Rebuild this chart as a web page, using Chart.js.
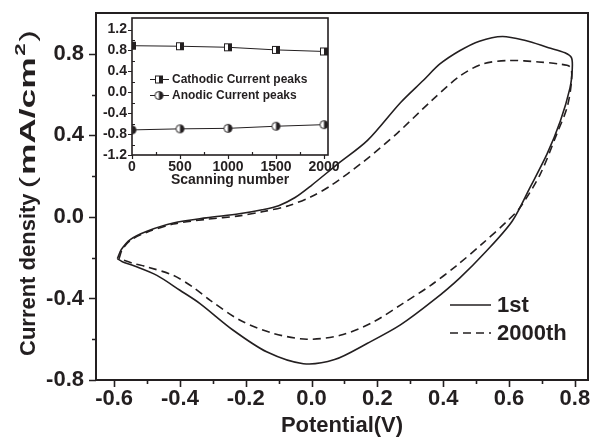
<!DOCTYPE html>
<html lang="en">
<head>
<meta charset="UTF-8">
<title>CV curves</title>
<script src="https://cdn.jsdelivr.net/npm/chart.js"></script>
<style>
  html, body { margin: 0; padding: 0; background: #fff; }
  #wrap { position: relative; width: 591px; height: 437px; }
  #mainChart { position: absolute; left: 0; top: 0; }
  #insetChart { position: absolute; left: 98px; top: 13px; }
</style>
</head>
<body>
<div id="wrap">
  <canvas id="mainChart" width="591" height="437"></canvas>
  <canvas id="insetChart" width="252" height="180"></canvas>
</div>
<script>
const ink = '#231f20';
const fontFamily = '"Liberation Sans", Arial, sans-serif';
Chart.defaults.font.family = fontFamily;
Chart.defaults.color = ink;

// main CV loops, in scan order (potential in V, current density in mA/cm2)
const firstPotential = [-0.59, -0.578, -0.55, -0.5, -0.42, -0.32, -0.22, -0.15, -0.1, -0.05, 0.0, 0.08, 0.17, 0.27, 0.34, 0.39, 0.45, 0.51, 0.58, 0.65, 0.72, 0.77, 0.79, 0.792, 0.785, 0.756, 0.716, 0.664, 0.61, 0.53, 0.45, 0.37, 0.27, 0.17, 0.07, -0.025, -0.135, -0.238, -0.34, -0.40, -0.47, -0.54, -0.575, -0.59];
const firstCurrent = [-0.205, -0.16, -0.11, -0.07, -0.03, -0.005, 0.015, 0.035, 0.055, 0.095, 0.155, 0.26, 0.375, 0.56, 0.67, 0.75, 0.815, 0.862, 0.885, 0.865, 0.83, 0.805, 0.78, 0.72, 0.63, 0.47, 0.31, 0.145, -0.02, -0.17, -0.30, -0.41, -0.53, -0.62, -0.70, -0.72, -0.663, -0.556, -0.424, -0.36, -0.287, -0.24, -0.22, -0.205];
const lastPotential = [-0.585, -0.575, -0.55, -0.5, -0.42, -0.32, -0.22, -0.15, -0.07, 0.0, 0.06, 0.157, 0.26, 0.36, 0.45, 0.52, 0.6, 0.69, 0.75, 0.786, 0.79, 0.777, 0.746, 0.695, 0.634, 0.595, 0.52, 0.44, 0.36, 0.278, 0.187, 0.087, -0.014, -0.117, -0.217, -0.308, -0.36, -0.42, -0.5, -0.542, -0.585];
const lastCurrent = [-0.205, -0.16, -0.115, -0.075, -0.035, -0.012, 0.005, 0.025, 0.055, 0.1, 0.155, 0.27, 0.41, 0.563, 0.69, 0.75, 0.767, 0.76, 0.75, 0.735, 0.67, 0.54, 0.41, 0.21, 0.047, -0.02, -0.13, -0.24, -0.338, -0.424, -0.516, -0.581, -0.6, -0.571, -0.507, -0.409, -0.345, -0.287, -0.245, -0.228, -0.205];
const seriesLabels = ['1st', '2000th'];

const potentialTicks = [-0.6, -0.4, -0.2, 0.0, 0.2, 0.4, 0.6, 0.8];
const currentTicks = [-0.8, -0.4, 0.0, 0.4, 0.8];

// inset: peak currents vs scan number
const scanNumbers = [0, 500, 1000, 1500, 2000];
const cathodicPeaks = [0.89, 0.88, 0.86, 0.81, 0.78];
const anodicPeaks = [-0.72, -0.70, -0.69, -0.65, -0.62];
const insetLabels = ['Cathodic Current peaks', 'Anodic Current peaks'];
const scanTicks = [0, 500, 1000, 1500, 2000];
const peakTicks = [-1.2, -0.8, -0.4, 0.0, 0.4, 0.8, 1.2];

function midpoints(t) {
  const m = [];
  for (let i = 0; i < t.length - 1; i++) m.push((t[i] + t[i + 1]) / 2);
  return m;
}
function toPoints(xs, ys) {
  return xs.map((v, i) => ({ x: v, y: ys[i] }));
}
// fixed axis boxes, no extra room for edge labels
function fixHeight(h) {
  return s => { s.height = h; s.paddingLeft = 0; s.paddingRight = 0; };
}
function fixWidth(w) {
  return s => { s.width = w; s.paddingTop = 0; s.paddingBottom = 0; };
}

// little tick marks: majors outward, minors given length/direction
function drawTicks(chart, xTicks, yTicks, major, minor, minorDir) {
  const { ctx, chartArea: a, scales: { x, y } } = chart;
  ctx.beginPath();
  xTicks.forEach(v => {
    const px = Math.round(x.getPixelForValue(v)) + 0.5;
    ctx.moveTo(px, a.bottom); ctx.lineTo(px, a.bottom + major);
  });
  midpoints(xTicks).forEach(v => {
    const px = Math.round(x.getPixelForValue(v)) + 0.5;
    ctx.moveTo(px, a.bottom); ctx.lineTo(px, a.bottom - minorDir * minor);
  });
  yTicks.forEach(v => {
    const py = Math.round(y.getPixelForValue(v)) + 0.5;
    ctx.moveTo(a.left, py); ctx.lineTo(a.left - major, py);
  });
  midpoints(yTicks).forEach(v => {
    const py = Math.round(y.getPixelForValue(v)) + 0.5;
    ctx.moveTo(a.left, py); ctx.lineTo(a.left + minorDir * minor, py);
  });
  ctx.stroke();
}

const mainFrame = {
  id: 'mainFrame',
  afterDraw(chart) {
    const { ctx, chartArea: a } = chart;
    ctx.save();
    ctx.strokeStyle = ink;
    ctx.lineWidth = 2;
    ctx.beginPath();
    ctx.moveTo(a.left, a.top); ctx.lineTo(a.right, a.top); ctx.lineTo(a.right, a.bottom);
    ctx.stroke();
    ctx.lineWidth = 1.6;
    drawTicks(chart, potentialTicks, currentTicks, 7, 4, -1);

    // legend
    ctx.font = 'bold 22px ' + fontFamily;
    ctx.fillStyle = ink;
    ctx.textBaseline = 'middle';
    chart.data.datasets.forEach((ds, i) => {
      const ly = 305 + i * 28;
      ctx.lineWidth = ds.borderWidth;
      ctx.setLineDash(ds.borderDash || []);
      ctx.beginPath(); ctx.moveTo(450, ly); ctx.lineTo(491, ly); ctx.stroke();
      ctx.setLineDash([]);
      ctx.fillText(ds.label, 497, ly + 1);
    });

    // y title, units part drawn wider as in the source figure
    ctx.translate(29, 356);
    ctx.rotate(-Math.PI / 2);
    ctx.fillText('Current density', 0, 0);
    const w1 = ctx.measureText('Current density').width;
    ctx.translate(w1 + 5, 0);
    ctx.font = '22px ' + fontFamily;
    const wOpen = ctx.measureText('(').width;
    ctx.font = 'bold 22px ' + fontFamily;
    const w2 = ctx.measureText('mA/cm').width;
    ctx.font = 'bold 14px ' + fontFamily;
    const w3 = ctx.measureText('2').width;
    ctx.font = '22px ' + fontFamily;
    const w4 = ctx.measureText(')').width;
    const sx = 160 / (wOpen + w2 + w3 + w4 + 4);
    ctx.scale(sx, 1);
    ctx.fillText('(', 0, 0);
    ctx.font = 'bold 22px ' + fontFamily;
    ctx.fillText('mA/cm', wOpen + 1, 0);
    ctx.font = 'bold 14px ' + fontFamily;
    ctx.fillText('2', wOpen + w2 + 2, -8);
    ctx.font = '22px ' + fontFamily;
    ctx.fillText(')', wOpen + w2 + w3 + 3, 0);
    ctx.restore();
  }
};

new Chart(document.getElementById('mainChart'), {
  type: 'line',
  data: {
    datasets: [
      { label: seriesLabels[0], data: toPoints(firstPotential, firstCurrent), borderColor: ink, borderWidth: 1.6, pointRadius: 0, tension: 0.3, fill: false },
      { label: seriesLabels[1], data: toPoints(lastPotential, lastCurrent), borderColor: ink, borderWidth: 1.6, borderDash: [8, 5], pointRadius: 0, tension: 0.3, fill: false }
    ]
  },
  options: {
    responsive: false,
    animation: false,
    events: [],
    layout: { padding: { top: 13, right: 3, left: 0, bottom: 0 } },
    plugins: { legend: { display: false }, tooltip: { enabled: false } },
    scales: {
      x: {
        type: 'linear', min: -0.655, max: 0.84,
        afterBuildTicks: s => { s.ticks = potentialTicks.map(v => ({ value: v })); },
        afterFit: fixHeight(57),
        grid: { display: false, drawTicks: false },
        border: { display: true, color: ink, width: 2 },
        ticks: { padding: 6, font: { size: 22, weight: 'bold' }, color: ink, callback: v => v.toFixed(1) },
        title: { display: true, text: 'Potential(V)', font: { size: 22, weight: 'bold', lineHeight: 1 }, color: ink, padding: { top: 0, bottom: 0 } }
      },
      y: {
        type: 'linear', min: -0.8, max: 1.0,
        afterBuildTicks: s => { s.ticks = currentTicks.map(v => ({ value: v })); },
        afterFit: fixWidth(96),
        grid: { display: false, drawTicks: false },
        border: { display: true, color: ink, width: 2 },
        ticks: { padding: 12, font: { size: 22, weight: 'bold' }, color: ink, callback: v => v.toFixed(1) }
      }
    }
  },
  plugins: [mainFrame]
});

// half-filled markers for the inset
function halfSquare(size) {
  const c = document.createElement('canvas');
  c.width = c.height = size + 2;
  const g = c.getContext('2d');
  g.fillStyle = '#fff'; g.fillRect(1, 1, size, size);
  g.fillStyle = ink; g.fillRect(1 + size / 2, 1, size / 2, size);
  g.strokeStyle = ink; g.lineWidth = 1; g.strokeRect(1.5, 1.5, size - 1, size - 1);
  return c;
}
function halfCircle(size) {
  const c = document.createElement('canvas');
  c.width = c.height = size + 2;
  const g = c.getContext('2d');
  const r = size / 2, cx = r + 1, cy = r + 1;
  g.fillStyle = '#fff'; g.beginPath(); g.arc(cx, cy, r - 0.5, 0, Math.PI * 2); g.fill();
  g.fillStyle = ink; g.beginPath(); g.arc(cx, cy, r - 0.5, -Math.PI / 2, Math.PI / 2); g.fill();
  g.strokeStyle = ink; g.lineWidth = 1; g.beginPath(); g.arc(cx, cy, r - 0.5, 0, Math.PI * 2); g.stroke();
  return c;
}
const squareMark = halfSquare(8);
const circleMark = halfCircle(9);

const insetFrame = {
  id: 'insetFrame',
  afterDraw(chart) {
    const { ctx, chartArea: a } = chart;
    ctx.save();
    ctx.strokeStyle = ink;
    ctx.lineWidth = 1.6;
    ctx.strokeRect(a.left, a.top, a.right - a.left, a.bottom - a.top);
    ctx.lineWidth = 1.2;
    drawTicks(chart, scanTicks, peakTicks, 4, 3, 1);

    ctx.font = 'bold 12px ' + fontFamily;
    ctx.fillStyle = ink;
    ctx.textBaseline = 'middle';
    chart.data.datasets.forEach((ds, i) => {
      const ly = 66 + i * 16;
      ctx.lineWidth = 1;
      ctx.beginPath(); ctx.moveTo(52, ly + 0.5); ctx.lineTo(71, ly + 0.5); ctx.stroke();
      const img = ds.pointStyle;
      ctx.drawImage(img, 61 - img.width / 2, ly + 0.5 - img.height / 2);
      ctx.fillText(ds.label, 74, ly + 1);
    });
    ctx.restore();
  }
};

new Chart(document.getElementById('insetChart'), {
  type: 'line',
  data: {
    datasets: [
      { label: insetLabels[0], data: toPoints(scanNumbers, cathodicPeaks), borderColor: ink, borderWidth: 1, pointStyle: squareMark, clip: 0 },
      { label: insetLabels[1], data: toPoints(scanNumbers, anodicPeaks), borderColor: ink, borderWidth: 1, pointStyle: circleMark, clip: 0 }
    ]
  },
  options: {
    responsive: false,
    animation: false,
    events: [],
    layout: { padding: { top: 2, right: 22, left: 0, bottom: 0 } },
    plugins: { legend: { display: false }, tooltip: { enabled: false } },
    scales: {
      x: {
        type: 'linear', min: 0, max: 2042,
        afterBuildTicks: s => { s.ticks = scanTicks.map(v => ({ value: v })); },
        afterFit: fixHeight(38),
        grid: { display: false, drawTicks: false },
        border: { display: false },
        ticks: { padding: 4, font: { size: 14, weight: 'bold' }, color: ink, callback: v => String(v) },
        title: { display: true, text: 'Scanning number', font: { size: 14, weight: 'bold', lineHeight: 1 }, color: ink, padding: { top: 0, bottom: 6 } }
      },
      y: {
        type: 'linear', min: -1.2, max: 1.42,
        afterBuildTicks: s => { s.ticks = peakTicks.map(v => ({ value: v })); },
        afterFit: fixWidth(34),
        grid: { display: false, drawTicks: false },
        border: { display: false },
        ticks: { padding: 5, font: { size: 14, weight: 'bold' }, color: ink, callback: v => v.toFixed(1) }
      }
    }
  },
  plugins: [insetFrame]
});
</script>
</body>
</html>
